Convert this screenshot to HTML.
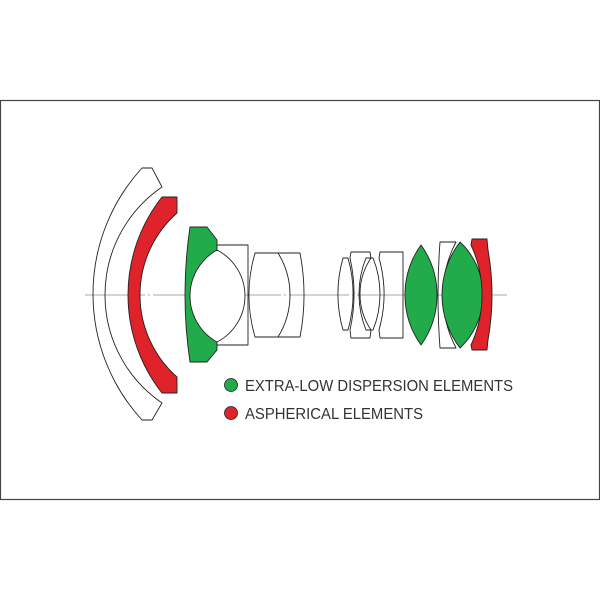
<!DOCTYPE html>
<html><head><style>html,body{margin:0;padding:0;background:#fff}svg{display:block}</style></head>
<body>
<svg width="600" height="600" viewBox="0 0 600 600" xmlns="http://www.w3.org/2000/svg">
<rect x="0.5" y="100.5" width="599" height="399" fill="none" stroke="#444" stroke-width="1.2"/>
<line x1="85" y1="295" x2="507" y2="295" stroke="#aaa" stroke-width="1" stroke-dasharray="60,3,2,3"/>
<g stroke="#222" stroke-width="0.9" stroke-linejoin="round">
<path d="M142,168 L152,168 L162,187 A130.8,130.8 0 0 0 162,403 L152,420 L142,420 A186.5,186.5 0 0 1 142,168 Z" fill="none"/>
<path d="M162,197 L177,197 L177,213 A109.4,109.4 0 0 0 177,377 L177,393 L162,393 A158.2,158.2 0 0 1 162,197 Z" fill="#e0232a"/>
<path d="M190,227 L207,227 L217,240 L217,350 L207,362 L190,362 A458,458 0 0 1 190,227 Z" fill="#22ab4a"/>
<path d="M217,250 A52.7,52.7 0 0 0 217,342 A51.8,51.8 0 0 0 217,250 Z" fill="#fff"/>
<path d="M217,245 L248,245 L248,345 L217,345" fill="none"/>
<path d="M255,253 L300,253 A222.5,222.5 0 0 1 300,337 L255,337 A150,150 0 0 1 255,253 Z" fill="none"/>
<path d="M278,253 A79.5,79.5 0 0 1 278,337" fill="none"/>
<!-- right group -->
<path d="M343,258 L348,258 A132,132 0 0 1 348,330 L343,330 A132,132 0 0 1 343,258 Z" fill="none"/>
<path d="M351,252 L370,252 L371,258 A64.4,64.4 0 0 0 371,330 L370,338 L351,338 L350,330 A164,164 0 0 0 350,258 Z" fill="none"/>
<path d="M366,258 L373,258 A96,96 0 0 1 373,330 L366,330 A96,96 0 0 1 366,258 Z" fill="none"/>
<path d="M380,252 L403,252 L403,338 L380,338 L379,330 A132,132 0 0 0 379,258 Z" fill="none"/>
<path d="M421,245 A86,86 0 0 1 421,345 A86,86 0 0 1 421,245 Z" fill="#22ab4a"/>
<path d="M440,242 L456,242 A114.5,114.5 0 0 0 456,348 L440,348 Q436,295 440,242 Z" fill="none"/>
<path d="M460,242 A72.6,72.6 0 0 1 460,348 A87,87 0 0 1 460,242 Z" fill="#22ab4a"/>
<path d="M472,239 L487,239 L488,250 A255,255 0 0 1 488,340 L487,350 L472,350 L471,345 A119,119 0 0 0 471,245 Z" fill="#e0232a"/>
</g>
<circle cx="231" cy="385" r="6.5" fill="#22ab4a" stroke="#222" stroke-width="0.8"/>
<circle cx="231" cy="413" r="6.5" fill="#e0232a" stroke="#222" stroke-width="0.8"/>
<g font-family="Liberation Sans, sans-serif" font-size="16" fill="#333">
<text x="245" y="391" textLength="268" lengthAdjust="spacingAndGlyphs">EXTRA-LOW DISPERSION ELEMENTS</text>
<text x="245" y="419" textLength="178" lengthAdjust="spacingAndGlyphs">ASPHERICAL ELEMENTS</text>
</g>
</svg>
</body></html>
